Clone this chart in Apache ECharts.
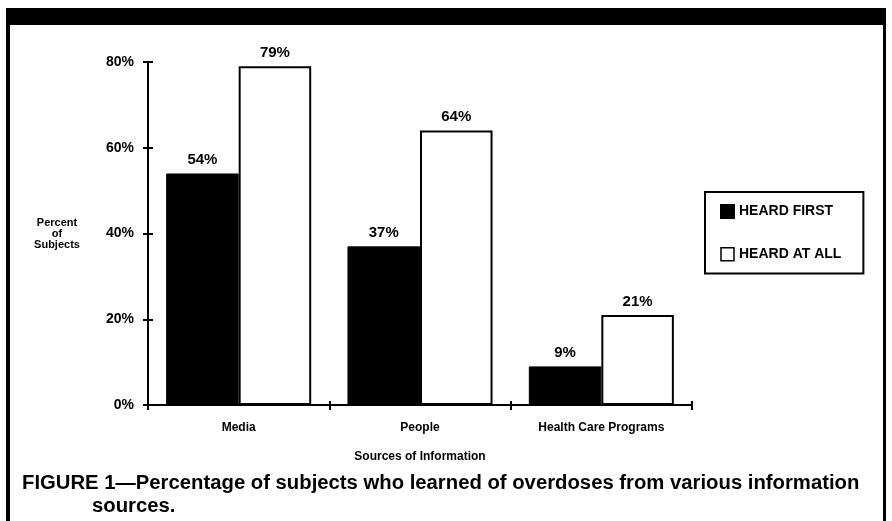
<!DOCTYPE html>
<html>
<head>
<meta charset="utf-8">
<script src="https://cdn.jsdelivr.net/npm/echarts@6/dist/echarts.min.js"></script>
<style>
  html, body { margin: 0; padding: 0; background: #fff; }
  #chart { width: 892px; height: 521px; }
</style>
</head>
<body>
<div id="chart"></div>
<script>
// data
var categories = ['Media', 'People', 'Health Care Programs'];
var heardFirst = [54, 37, 9];
var heardAtAll = [79, 64, 21];
var yTicks = [0, 20, 40, 60, 80];

var font = 'Liberation Sans';

var myChart = echarts.init(document.getElementById('chart'));
myChart.setOption({
    backgroundColor: '#fff',
    animation: false,
    textStyle: { fontFamily: font, color: '#000' },
    grid: { left: 148, right: 200, top: 62, bottom: 116 },
    legend: {
        orient: 'vertical',
        left: 705,
        top: 192,
        padding: [12, 22, 12, 15],
        itemWidth: 13,
        itemHeight: 13,
        itemGap: 28,
        borderColor: '#000',
        borderWidth: 2,
        icon: 'rect',
        textStyle: { fontFamily: font, fontWeight: 'bold', fontSize: 14, color: '#000' },
        data: [
            { name: 'HEARD FIRST' },
            { name: 'HEARD AT ALL', itemStyle: { color: '#fff', borderColor: '#000', borderWidth: 1.5 } }
        ]
    },
    xAxis: [{
        type: 'category',
        data: categories,
        name: 'Sources of Information',
        nameLocation: 'middle',
        nameGap: 46,
        nameTextStyle: { fontFamily: font, fontWeight: 'bold', fontSize: 12, color: '#000' },
        axisLine: { lineStyle: { color: '#000', width: 2 } },
        axisTick: { show: true, interval: 0, length: 5, lineStyle: { color: '#000', width: 2 } },
        axisLabel: { margin: 17, fontFamily: font, fontWeight: 'bold', fontSize: 12, color: '#000' }
    }, {
        // second copy only for the tick halves above the line
        type: 'category',
        data: categories,
        position: 'bottom',
        axisLine: { show: false },
        axisTick: { show: true, interval: 0, inside: true, length: 4, lineStyle: { color: '#000', width: 2 } },
        axisLabel: { show: false }
    }],
    yAxis: [{
        type: 'value',
        min: yTicks[0],
        max: yTicks[yTicks.length - 1],
        interval: 20,
        name: 'Percent\nof\nSubjects',
        nameLocation: 'middle',
        nameRotate: 0,
        nameGap: 91,
        nameTextStyle: { fontFamily: font, fontWeight: 'bold', fontSize: 11, lineHeight: 11, color: '#000', align: 'center' },
        splitLine: { show: false },
        axisLine: { show: true, lineStyle: { color: '#000', width: 2 } },
        axisTick: { show: true, length: 5, lineStyle: { color: '#000', width: 2 } },
        axisLabel: { margin: 14, formatter: '{value}%', fontFamily: font, fontWeight: 'bold', fontSize: 14, color: '#000' }
    }, {
        type: 'value',
        min: yTicks[0],
        max: yTicks[yTicks.length - 1],
        interval: 20,
        position: 'left',
        splitLine: { show: false },
        axisLine: { show: false },
        axisTick: { show: true, inside: true, length: 5, lineStyle: { color: '#000', width: 2 } },
        axisLabel: { show: false }
    }],
    series: [{
        name: 'HEARD FIRST',
        type: 'bar',
        data: heardFirst,
        barGap: '0%',
        barCategoryGap: '20%',
        itemStyle: { color: '#000', borderColor: '#000', borderWidth: 1 },
        label: { show: true, position: 'top', distance: 6, formatter: '{c}%', fontFamily: font, fontWeight: 'bold', fontSize: 15, color: '#000' }
    }, {
        name: 'HEARD AT ALL',
        type: 'bar',
        data: heardAtAll,
        barGap: '0%',
        barCategoryGap: '20%',
        itemStyle: { color: '#fff', borderColor: '#000', borderWidth: 2 },
        label: { show: true, position: 'top', distance: 6, formatter: '{c}%', fontFamily: font, fontWeight: 'bold', fontSize: 15, color: '#000' }
    }],
    graphic: [
        // frame of the figure
        { type: 'rect', shape: { x: 6, y: 8, width: 880, height: 17 }, style: { fill: '#000' } },
        { type: 'rect', shape: { x: 6, y: 8, width: 4, height: 513 }, style: { fill: '#000' } },
        { type: 'rect', shape: { x: 883, y: 8, width: 3, height: 513 }, style: { fill: '#000' } },
        // caption
        {
            type: 'text', left: 22, top: 473,
            style: { text: 'FIGURE 1\u2014Percentage of subjects who learned of overdoses from various information',
                     font: 'bold 20.3px "Liberation Sans"', fill: '#000' }
        },
        {
            type: 'text', left: 92, top: 496,
            style: { text: 'sources.', font: 'bold 20.3px "Liberation Sans"', fill: '#000' }
        }
    ]
});
</script>
</body>
</html>
